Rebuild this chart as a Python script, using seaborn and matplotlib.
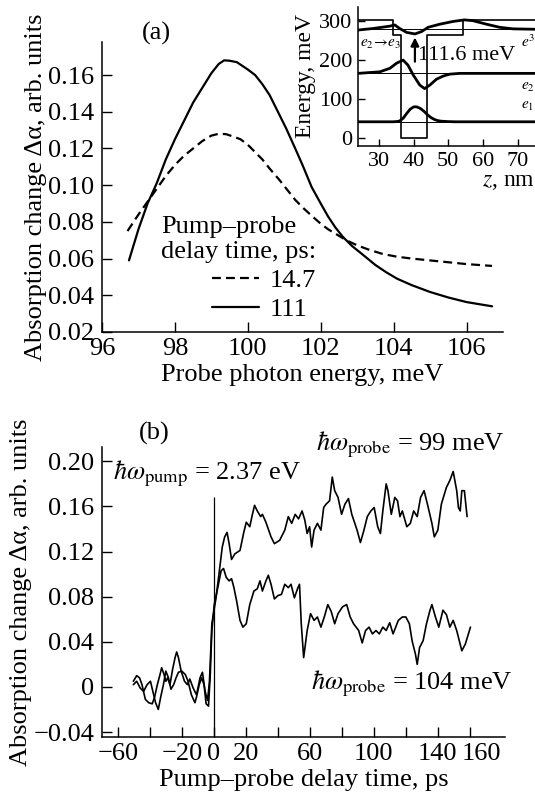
import numpy as np
import pandas as pd
import matplotlib
matplotlib.use("Agg")
import matplotlib.pyplot as plt
import matplotlib.transforms as mtransforms
import seaborn as sns

# ---------------- data: panel (a) ----------------
energy_147 = [96.7, 97.0, 97.25, 97.5, 97.75, 98.0, 98.25, 98.5, 98.75, 99.0, 99.2, 99.4, 99.6,
              99.8, 100.0, 100.2, 100.4, 100.6, 100.86, 101.1, 101.3, 101.55, 101.77, 102.0,
              102.2, 102.45, 102.7, 103.0, 103.3, 103.7, 104.1, 104.5, 105.0, 105.5, 106.0, 106.7]
absorb_147 = [0.075, 0.084, 0.091, 0.098, 0.105, 0.111, 0.116, 0.120, 0.124, 0.127, 0.128, 0.1278,
              0.1265, 0.125, 0.122, 0.118, 0.114, 0.109, 0.103, 0.097, 0.092, 0.087, 0.083, 0.079,
              0.076, 0.073, 0.070, 0.0672, 0.065, 0.0625, 0.061, 0.060, 0.059, 0.058, 0.057, 0.056]
energy_111 = [96.74, 97.0, 97.25, 97.5, 97.75, 98.0, 98.5, 98.75, 99.0, 99.2, 99.35, 99.5, 99.7,
              100.0, 100.2, 100.4, 100.6, 100.85, 101.05, 101.3, 101.5, 101.75, 102.0, 102.2,
              102.4, 102.6, 102.85, 103.1, 103.5, 103.8, 104.1, 104.5, 105.0, 105.5, 106.0, 106.7]
absorb_111 = [0.059, 0.076, 0.090, 0.101, 0.114, 0.125, 0.145, 0.153, 0.161, 0.166, 0.168, 0.1678,
              0.167, 0.163, 0.160, 0.155, 0.149, 0.139, 0.131, 0.120, 0.111, 0.099, 0.090, 0.083,
              0.077, 0.072, 0.067, 0.063, 0.0565, 0.0525, 0.049, 0.0455, 0.0418, 0.0388, 0.0363,
              0.0340]
delay_labels = ["14.7", "111"]
legend_title = "Pump\u2013probe\ndelay time, ps:"
a_xticks = [96, 98, 100, 102, 104, 106]
a_yticks = [0.02, 0.04, 0.06, 0.08, 0.10, 0.12, 0.14, 0.16]

# ---------------- data: inset ----------------
z_profile = [24, 34.1, 34.1, 36.5, 36.5, 43.9, 43.9, 54.3, 54.3, 75]
u_profile = [302, 302, 263, 263, 0, 0, 263, 263, 302, 302]
level_names = ["$e_1$", "$e_2$", "$e^3$"]
level_energy = [41, 165, 278]
level_label_y = [80, 130, 245]
z_psi1 = [24, 34, 35.1, 36, 37, 38, 39, 40, 40.5, 41, 42, 43, 44, 45, 46, 47, 48, 50, 52, 75]
e_psi1 = [41, 41, 41.5, 43, 50, 62, 73, 79, 79.5, 79, 75, 68, 59, 52, 47, 44, 42.5, 41.5, 41, 41]
z_psi2 = [24, 30.3, 33.2, 35.1, 37.0, 38.4, 39.9, 41.8, 43.2, 44.7, 46.6, 48.5, 50.4, 53.3, 75]
e_psi2 = [165, 169, 178, 191, 199, 186, 161, 135, 126, 135, 150, 158, 163, 165, 165]
z_psi3 = [24, 28.4, 33.2, 34.6, 36.0, 38.0, 40.4, 42.3, 44.2, 47.6, 51.4, 54.7, 57.1, 61.0,
          64.8, 68.7, 75]
e_psi3 = [276, 280, 286, 289, 280, 270, 266, 272, 283, 291, 298, 302, 300, 291,
          283, 279, 278]
transition_z = 40.4
transition_from, transition_to = 195, 257
transition_text = "111.6 meV"

# ---------------- data: panel (b) ----------------
t_99 = [-50.4, -48.3, -46.5, -45.0, -42.9, -40.8, -38.6, -37.1, -35.4, -33.7, -32.7, -31.2,
        -30.1, -29.0, -27.5, -25.8, -24.3, -23.3, -22.2, -20.5, -18.4, -16.6, -15.1, -13.0,
        -10.9, -8.7, -7.2, -5.5, -4.0, -2.8, -1.3,
        1.3, 3.4, 5.2, 6.7, 8.2, 9.5, 11.0, 13.1, 16.3, 18.5, 20.2, 22.4, 23.9, 25.4, 27.1,
        29.2, 30.3, 32.5, 35.7, 37.8, 41.1, 44.3, 46.5, 48.6, 50.8, 52.9, 55.1, 56.8, 58.3,
        59.8, 61.1, 62.6, 64.7, 66.9, 68.6, 70.1, 72.3, 74.0, 75.5, 77.6, 79.8, 81.9, 84.1,
        86.2, 89.5, 91.6, 93.8, 95.9, 98.1, 100.2, 102.4, 104.1, 105.6, 107.7, 108.8, 110.9,
        113.1, 114.8, 116.3, 117.8, 120.6, 122.8, 124.9, 127.1, 129.2, 131.4, 133.5, 136.3,
        137.8, 140.0, 142.2, 145.4, 147.5, 149.6, 151.8, 152.9, 154.0, 155.0, 156.6, 158.3]
a_99 = [0.005, 0.010, 0.008, 0.002, -0.011, -0.014, -0.015, -0.009, 0.002, 0.011, 0.017, 0.011,
        0.005, 0.008, 0.002, 0.016, 0.026, 0.031, 0.026, 0.014, 0.005, 0.002, 0.007, -0.001,
        -0.007, 0.008, 0.013, -0.004, -0.012, 0.005, 0.056,
        0.079, 0.103, 0.124, 0.133, 0.137, 0.127, 0.113, 0.118, 0.121, 0.136, 0.146, 0.142,
        0.152, 0.161, 0.156, 0.151, 0.153, 0.146, 0.133, 0.127, 0.130, 0.139, 0.151, 0.145,
        0.153, 0.149, 0.156, 0.148, 0.136, 0.142, 0.124, 0.139, 0.145, 0.139, 0.159, 0.162,
        0.165, 0.186, 0.174, 0.168, 0.153, 0.162, 0.167, 0.153, 0.139, 0.128, 0.139, 0.151,
        0.156, 0.159, 0.142, 0.136, 0.156, 0.180, 0.174, 0.153, 0.168, 0.165, 0.151, 0.156,
        0.142, 0.145, 0.156, 0.151, 0.168, 0.174, 0.162, 0.145, 0.133, 0.139, 0.162, 0.177,
        0.183, 0.191, 0.174, 0.159, 0.156, 0.174, 0.174, 0.151]
t_104 = [-50.4, -48.3, -46.1, -44.0, -41.8, -39.7, -38.2, -36.5, -34.8, -33.3, -31.6, -30.1,
         -28.4, -26.9, -25.2, -23.7, -22.2, -20.1, -17.9, -16.2, -14.1, -11.9, -10.9, -9.2,
         -7.7, -6.2, -4.9, -3.4, -2.3, -1.3,
         0.2, 2.4, 4.5, 6.0, 7.7, 9.5, 11.0, 12.5, 14.2, 16.3, 18.1, 20.2, 22.4, 25.0, 27.1,
         28.8, 30.3, 32.5, 34.0, 35.7, 37.8, 40.0, 42.2, 44.3, 46.5, 48.2, 50.3, 52.5, 53.5,
         54.6, 56.1, 58.3, 60.4, 62.6, 64.7, 66.9, 69.0, 71.2, 73.3, 75.5, 77.6, 80.4, 83.0,
         85.2, 87.3, 90.5, 92.7, 94.8, 97.0, 99.1, 101.3, 103.4, 105.6, 107.7, 109.9, 112.0,
         115.3, 117.8, 120.0, 122.2, 123.9, 126.0, 127.1, 128.6, 130.8, 132.9, 135.1, 136.3,
         138.5, 140.6, 143.2, 145.4, 147.5, 149.6, 151.8, 155.0, 157.2, 160.4]
a_104 = [0.002, 0.005, -0.001, -0.004, 0.002, 0.005, -0.004, -0.014, -0.020, -0.009, 0.002,
         0.014, 0.008, -0.002, 0.002, 0.008, 0.013, 0.014, 0.011, 0.005, -0.007, -0.014,
         -0.009, 0.002, 0.008, 0.002, -0.015, -0.017, 0.011, 0.050,
         0.073, 0.088, 0.103, 0.105, 0.097, 0.094, 0.096, 0.088, 0.076, 0.059, 0.053, 0.056,
         0.073, 0.085, 0.087, 0.094, 0.085, 0.094, 0.099, 0.091, 0.078, 0.081, 0.082, 0.091,
         0.088, 0.091, 0.079, 0.088, 0.091, 0.056, 0.026, 0.050, 0.065, 0.059, 0.062, 0.053,
         0.062, 0.073, 0.067, 0.056, 0.065, 0.071, 0.073, 0.062, 0.056, 0.050, 0.039, 0.050,
         0.053, 0.047, 0.050, 0.047, 0.053, 0.050, 0.057, 0.047, 0.059, 0.062, 0.062, 0.056,
         0.041, 0.029, 0.020, 0.035, 0.041, 0.056, 0.068, 0.073, 0.062, 0.053, 0.068, 0.064,
         0.053, 0.059, 0.050, 0.032, 0.038, 0.053]
pump_time = 0.0
pump_line_top = 0.168
b_xticks = [-60, -40, -20, 0, 20, 40, 60, 80, 100, 120, 140, 160]
b_xticklabels = ["\u221260", "", "\u221220", "0", "20", "", "60", "", "100", "", "140", "160"]
b_yticks = [-0.04, 0.0, 0.04, 0.08, 0.12, 0.16, 0.20]
b_yticklabels = ["\u22120.04", "0", "0.04", "0.08", "0.12", "0.16", "0.20"]

# ---------------- style ----------------
sns.set_theme(style="ticks", rc={
    "xtick.direction": "in", "ytick.direction": "in",
    "xtick.major.size": 7, "ytick.major.size": 7,
    "xtick.major.width": 1.0, "ytick.major.width": 1.0,
    "axes.linewidth": 1.1, "axes.edgecolor": "black",
    "xtick.color": "black", "ytick.color": "black",
    "text.color": "black", "axes.labelcolor": "black",
})
plt.rcParams["font.family"] = ["Liberation Serif", "DejaVu Serif"]
plt.rcParams["mathtext.fontset"] = "stix"
plt.rcParams["axes.unicode_minus"] = True

FS = 19
W, H = 535, 800
fig = plt.figure(figsize=(W / 100, H / 100), dpi=100)
fig.patch.set_facecolor("white")

def frac(left, top, right, bottom):
    return [left / W, 1 - bottom / H, (right - left) / W, (bottom - top) / H]

ax_a = fig.add_axes(frac(102, 42, 503, 332))
ax_b = fig.add_axes(frac(102, 447, 505, 737))
ax_in = fig.add_axes(frac(358, 7, 535, 146))

for ax in (ax_a, ax_b, ax_in):
    ax.set_facecolor("none")
    sns.despine(ax=ax)

# ---------------- panel (a) ----------------
sns.lineplot(x=energy_147, y=absorb_147, ax=ax_a, color="black", lw=1.6,
             sort=False, estimator=None, label=delay_labels[0])
sns.lineplot(x=energy_111, y=absorb_111, ax=ax_a, color="black", lw=1.6,
             sort=False, estimator=None, label=delay_labels[1])
ax_a.lines[0].set_dashes((4, 2.3))
ax_a.set_xlim(96, 107)
ax_a.set_ylim(0.02, 0.178)
ax_a.set_xticks(a_xticks)
ax_a.set_xticklabels([str(v) for v in a_xticks])
ax_a.set_yticks(a_yticks)
ax_a.set_yticklabels([f"{v:.2f}" for v in a_yticks])
ax_a.tick_params(labelsize=FS, pad=4)
ax_a.tick_params(axis="y", pad=5.5)
ax_a.set_xlabel("Probe photon energy, meV", fontsize=FS, labelpad=3)
ax_a.set_ylabel("Absorption change \u0394\u03b1, arb. units", fontsize=FS, labelpad=1)
ax_a.text(97.5, 0.1824, "(a)", ha="center", va="center", fontsize=FS)
leg = ax_a.legend(title=legend_title, loc="upper left", bbox_to_anchor=(0.147, 0.40),
                  frameon=False, fontsize=FS, title_fontsize=FS, handlelength=1.8,
                  handletextpad=0.4, labelspacing=0.2, borderpad=0, borderaxespad=0,
                  alignment="right")
leg.get_title().set_multialignment("left")

# ---------------- inset ----------------
ax_in.plot(z_profile, u_profile, color="black", lw=1.2)
for e in level_energy:
    ax_in.axhline(e, color="black", lw=0.7)
for zz, ee in ((z_psi1, e_psi1), (z_psi2, e_psi2), (z_psi3, e_psi3)):
    sns.lineplot(x=zz, y=ee, ax=ax_in, color="black", lw=2.0, sort=False, estimator=None)
for name, y in zip(level_names, level_label_y):
    ax_in.text(70.9, y, name, fontsize=11, ha="left", va="center")
ax_in.annotate("", xy=(transition_z, transition_to), xytext=(transition_z, transition_from),
               arrowprops=dict(arrowstyle="-|>", lw=1.6, color="black", mutation_scale=12,
                               shrinkA=0, shrinkB=0))
ax_in.text(41.2, 212, transition_text, fontsize=16, ha="left", va="center")
ax_in.text(24.6, 238, "$e_2\\!\\rightarrow\\! e_3$", fontsize=11, ha="left", va="center")
ax_in.set_xlim(24, 75)
ax_in.set_ylim(-21, 335)
ax_in.set_xticks([30, 40, 50, 60, 70])
ax_in.set_yticks([0, 100, 200, 300])
ax_in.tick_params(labelsize=16, pad=4, length=5)
ax_in.set_xlabel("$z$, nm", fontsize=17, loc="right", labelpad=0)
ax_in.set_ylabel("Energy, meV", fontsize=17, labelpad=2)

# ---------------- panel (b) ----------------
sns.lineplot(x=t_99, y=a_99, ax=ax_b, color="black", lw=1.2, sort=False, estimator=None)
sns.lineplot(x=t_104, y=a_104, ax=ax_b, color="black", lw=1.2, sort=False, estimator=None)
ax_b.set_xlim(-70, 182)
ax_b.set_ylim(-0.0444, 0.2127)
ax_b.vlines(pump_time, -0.0444, pump_line_top, color="black", lw=0.9)
ax_b.set_xticks(b_xticks)
ax_b.set_xticklabels(b_xticklabels)
ax_b.set_yticks(b_yticks)
ax_b.set_yticklabels(b_yticklabels)
ax_b.tick_params(labelsize=FS, pad=4)
ax_b.tick_params(axis="y", pad=5.5)
last = ax_b.get_xticklabels()[-1]
last.set_transform(last.get_transform() +
                   mtransforms.ScaledTranslation(12 / 100, 0, fig.dpi_scale_trans))
ax_b.set_xlabel("Pump\u2013probe delay time, ps", fontsize=FS, labelpad=3)
ax_b.set_ylabel("Absorption change \u0394\u03b1, arb. units", fontsize=FS, labelpad=1)
ax_b.text(-37.3, 0.2249, "(b)", ha="center", va="center", fontsize=FS)
ax_b.text(-63, 0.189, r"$\hbar\omega_{\mathrm{pump}}$ = 2.37 eV", ha="left", va="center", fontsize=FS)
ax_b.text(182, 0.2145, r"$\hbar\omega_{\mathrm{probe}}$ = 99 meV", ha="right", va="center", fontsize=FS)
ax_b.text(186.9, 0.003, r"$\hbar\omega_{\mathrm{probe}}$ = 104 meV", ha="right", va="center", fontsize=FS)

fig.savefig("out.png", dpi=100, facecolor="white")
